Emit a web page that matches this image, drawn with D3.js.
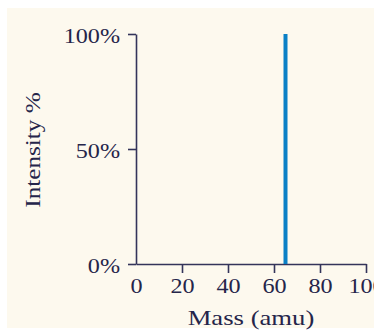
<!DOCTYPE html>
<html>
<head>
<meta charset="utf-8">
<script src="https://cdn.jsdelivr.net/npm/d3@7"></script>
<style>
  html, body { margin: 0; padding: 0; background: #ffffff; }
  svg { display: block; }
  .axis text, .title { font-family: "Liberation Serif", "DejaVu Serif", serif; fill: #25254a; }
</style>
</head>
<body>
<div id="chart"></div>
<script>
// peak data: mass (amu) and relative intensity (%)
const masses = [65];
const intensities = [100];
const xTicks = [0, 20, 40, 60, 80, 100];
const yTicks = [0, 50, 100];
const xLabel = 'Mass (amu)';
const yLabel = 'Intensity %';

const width = 374, height = 330;
const margin = { top: 34, right: 8, bottom: 66, left: 136 };
const plotH = height - margin.top - margin.bottom;
const axisColor = '#34345a';

// the lettering in the picture is wider than Liberation Serif, so stretch it a bit
function stretch(sel, k) {
  sel.each(function() {
    const w = this.getComputedTextLength();
    d3.select(this).attr('textLength', w * k).attr('lengthAdjust', 'spacingAndGlyphs');
  });
}

const svg = d3.select('#chart').append('svg')
  .attr('width', width)
  .attr('height', height);

// panel background
svg.append('rect')
  .attr('x', 7).attr('y', 8)
  .attr('width', width - 7).attr('height', 320)
  .attr('fill', '#fdf9ee');

const chart = svg.append('g')
  .attr('transform', `translate(${margin.left}, ${margin.top})`);

const xScale = d3.scaleLinear().domain([0, 100]).range([0, 230]);
const yScale = d3.scaleLinear().domain([0, 100]).range([plotH, 0]);

// x axis
const xAxis = chart.append('g')
  .attr('class', 'axis axis-x')
  .attr('transform', `translate(0, ${plotH})`)
  .call(d3.axisBottom(xScale).tickValues(xTicks).tickSize(9).tickSizeOuter(0).tickFormat(d3.format('d')));
xAxis.select('.domain').attr('stroke', axisColor).attr('stroke-width', 1.6);
xAxis.selectAll('.tick line').attr('stroke', axisColor).attr('stroke-width', 1.6)
  .filter(d => d === 0).remove();
xAxis.selectAll('.tick text').attr('font-size', 21).attr('y', 14).attr('dy', '0.71em')
  .call(stretch, 1.15);

// y axis
const yAxis = chart.append('g')
  .attr('class', 'axis axis-y')
  .call(d3.axisLeft(yScale).tickValues(yTicks).tickSize(8).tickSizeOuter(0).tickFormat(d => d + '%'));
yAxis.select('.domain').attr('stroke', axisColor).attr('stroke-width', 1.6);
yAxis.selectAll('.tick line').attr('stroke', axisColor).attr('stroke-width', 1.6);
yAxis.selectAll('.tick text').attr('font-size', 21).attr('x', -16).attr('dy', '0.42em')
  .call(stretch, 1.15);

// peaks
chart.selectAll('.peak')
  .data(masses)
  .enter()
  .append('line')
  .attr('class', 'peak')
  .attr('x1', d => xScale(d))
  .attr('x2', d => xScale(d))
  .attr('y1', yScale(0))
  .attr('y2', (d, i) => yScale(intensities[i]))
  .attr('stroke', '#0a80c6')
  .attr('stroke-width', 4);

// axis titles
svg.append('text')
  .attr('class', 'title')
  .attr('x', margin.left + xScale(50))
  .attr('y', 325)
  .attr('text-anchor', 'middle')
  .attr('font-size', 21)
  .text(xLabel)
  .call(stretch, 1.27);

svg.append('text')
  .attr('class', 'title')
  .attr('transform', `translate(40, 150) rotate(-90)`)
  .attr('text-anchor', 'middle')
  .attr('font-size', 21)
  .text(yLabel)
  .call(stretch, 1.2);
</script>
</body>
</html>
